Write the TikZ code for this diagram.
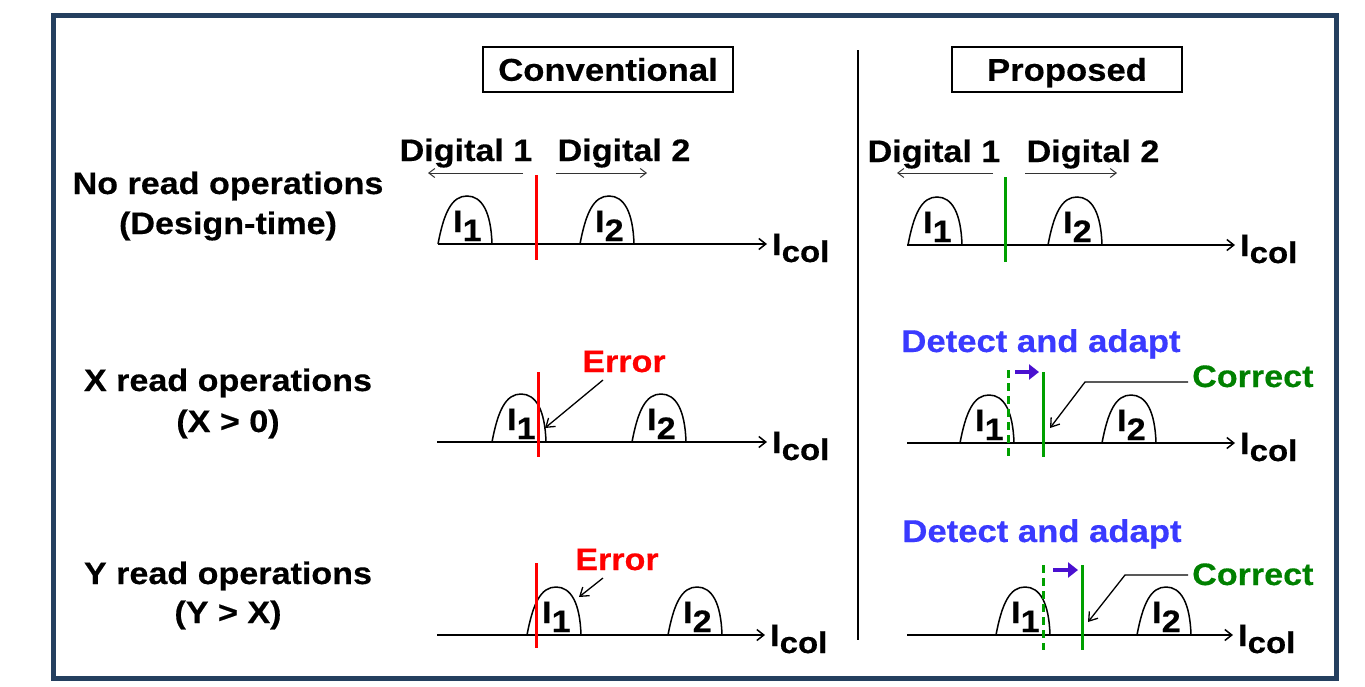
\documentclass[tikz,border=0pt]{standalone}
\usepackage{fontspec}
\setmainfont{Liberation Sans}[FakeStretch=1.1, BoldFeatures={FakeBold=0.4}]
\usetikzlibrary{arrows.meta}

\definecolor{frameblue}{HTML}{243F5F}
\definecolor{errred}{HTML}{FF0000}
\definecolor{okgreen}{HTML}{00A000}
\definecolor{textgreen}{HTML}{008000}
\definecolor{adaptblue}{HTML}{3A3AFF}
\definecolor{shiftpurple}{HTML}{4A10D0}

\newcommand{\fsz}[1]{\fontsize{#1}{#1}\selectfont}
% current distribution: bell-shaped hump with its label I_k
% #1 left x, #2 axis y, #3 label node name, #4 index
\newcommand{\hump}[4]{%
  \draw[curve] (#1,#2) .. controls ({#1+6},{#2-32}) and ({#1+14},{#2-48}) .. ({#1+29},{#2-48})
     .. controls ({#1+44},{#2-48}) and ({#1+53},{#2-32}) .. ({#1+54},#2);
  \node[txt, anchor=base west] (#3) at ({#1+15},{#2-12}) {I\raisebox{-9pt}{#4}};
}
% axis label I_col
\newcommand{\icol}{I{\fsz{30}\raisebox{-7pt}{col}}}

\begin{document}
\begin{tikzpicture}[x=1pt,y=-1pt,
  txt/.style={inner sep=0pt, font=\bfseries\fsz{31}},
  rowlabel/.style={txt, anchor=base},
  title/.style={draw, line width=1.3pt, inner sep=0pt, font=\bfseries\fsz{31.5},
                minimum height=45pt, text height=22.5pt, text depth=0pt},
  curve/.style={line width=1.5pt},
  axis/.style={line width=1.5pt, -{Straight Barb[length=7pt,width=11pt,line width=1.5pt]}},
  hint/.style={line width=1pt, draw=black!80, -{Straight Barb[length=6pt,width=9pt,line width=1pt]}},
  pointer/.style={line width=1.3pt, -{Straight Barb[length=8pt,width=11pt,line width=1.3pt]}},
  refline/.style={line width=3pt, draw=errred},
  goodline/.style={line width=3pt, draw=okgreen},
  oldline/.style={line width=3pt, draw=okgreen, dash pattern=on 8pt off 5pt},
  movearrow/.style={line width=4pt, draw=shiftpurple, -{Triangle[length=10pt,width=15pt]}},
]
\useasboundingbox (0,0) rectangle (1365,686);

% outer frame and column divider
\draw[frameblue, line width=5pt] (53.5,15.5) rectangle (1336.5,678.5);
\coordinate (divtop) at (858,50);
\coordinate (divbot) at (858,640);
\draw[line width=1.5pt] (divtop) -- (divbot);

% column titles
\node[title, minimum width=250pt] (conv) at (608,69.5) {Conventional};
\node[title, minimum width=230pt] (prop) at (1067,69.5) {Proposed};

% row labels
\node[rowlabel] (r1a) at (228,194) {No read operations};
\node[rowlabel] (r1b) at (228,234) {(Design-time)};
\node[rowlabel] (r2a) at (228,391) {X read operations};
\node[rowlabel] (r2b) at (228,432) {(X > 0)};
\node[rowlabel] (r3a) at (228,584) {Y read operations};
\node[rowlabel] (r3b) at (228,623) {(Y > X)};

% ---------- row 1, conventional ----------
\node[rowlabel] (cd1) at (466,161) {Digital 1};
\node[rowlabel] (cd2) at (624,161) {Digital 2};
\coordinate (cd1s) at (523,173); \coordinate (cd1e) at (428,173);
\coordinate (cd2s) at (556,173); \coordinate (cd2e) at (647,173);
\draw[hint] (cd1s) -- (cd1e);
\draw[hint] (cd2s) -- (cd2e);
\hump{438}{244}{c1i1}{1}
\hump{580}{244}{c1i2}{2}
\node[txt, anchor=base west] (c1col) at (772,255) {\icol};
\coordinate (c1a) at (438,244); \coordinate (c1b) at (767,244);
\draw[axis] (c1a) -- (c1b);
\coordinate (c1t) at (536,175); \coordinate (c1u) at (536,260);
\draw[refline] (c1t) -- (c1u);

% ---------- row 1, proposed ----------
\node[rowlabel] (pd1) at (934,162) {Digital 1};
\node[rowlabel] (pd2) at (1093,162) {Digital 2};
\coordinate (pd1s) at (993,173); \coordinate (pd1e) at (897,173);
\coordinate (pd2s) at (1025,173); \coordinate (pd2e) at (1117,173);
\draw[hint] (pd1s) -- (pd1e);
\draw[hint] (pd2s) -- (pd2e);
\hump{908}{245}{p1i1}{1}
\hump{1048}{245}{p1i2}{2}
\node[txt, anchor=base west] (p1col) at (1240,256) {\icol};
\coordinate (p1a) at (907,245); \coordinate (p1b) at (1235,245);
\draw[axis] (p1a) -- (p1b);
\coordinate (p1t) at (1005,177); \coordinate (p1u) at (1005,262);
\draw[goodline] (p1t) -- (p1u);

% ---------- row 2, conventional ----------
\hump{492}{442}{c2i1}{1}
\hump{632}{442}{c2i2}{2}
\node[txt, anchor=base west] (c2col) at (772,453) {\icol};
\coordinate (c2a) at (437,442); \coordinate (c2b) at (767,442);
\draw[axis] (c2a) -- (c2b);
\coordinate (c2t) at (538,372); \coordinate (c2u) at (538,457);
\draw[refline] (c2t) -- (c2u);
\node[txt, anchor=base, text=errred] (c2err) at (624,372) {Error};
\coordinate (c2from) at (603,380);
\coordinate (c2hit) at (545,428);
\draw[pointer] (c2from) -- (c2hit);

% ---------- row 2, proposed ----------
\node[txt, anchor=base, text=adaptblue, font=\bfseries\fsz{31.5}] (p2det) at (1041,352) {Detect and adapt};
\hump{960}{443}{p2i1}{1}
\hump{1102}{443}{p2i2}{2}
\node[txt, anchor=base west] (p2col) at (1240,454) {\icol};
\coordinate (p2a) at (907,443); \coordinate (p2b) at (1235,443);
\draw[axis] (p2a) -- (p2b);
\coordinate (p2ot) at (1008,370); \coordinate (p2ou) at (1008,457);
\draw[oldline] (p2ot) -- (p2ou);
\coordinate (p2t) at (1043,372); \coordinate (p2u) at (1043,457);
\draw[goodline] (p2t) -- (p2u);
\coordinate (p2ms) at (1015,372); \coordinate (p2me) at (1039,372);
\draw[movearrow] (p2ms) -- (p2me);
\node[txt, anchor=base west, text=textgreen] (p2ok) at (1192,387) {Correct};
\coordinate (p2from) at (1188,382);
\coordinate (p2bend) at (1085,382);
\coordinate (p2hit) at (1050,428);
\draw[pointer] (p2from) -- (p2bend) -- (p2hit);

% ---------- row 3, conventional ----------
\hump{527}{635}{c3i1}{1}
\hump{668}{635}{c3i2}{2}
\node[txt, anchor=base west] (c3col) at (770,646) {\icol};
\coordinate (c3a) at (437,635); \coordinate (c3b) at (765,635);
\draw[axis] (c3a) -- (c3b);
\coordinate (c3t) at (536,563); \coordinate (c3u) at (536,648);
\draw[refline] (c3t) -- (c3u);
\node[txt, anchor=base, text=errred] (c3err) at (617,570) {Error};
\coordinate (c3from) at (603,578);
\coordinate (c3hit) at (579,597);
\draw[pointer] (c3from) -- (c3hit);

% ---------- row 3, proposed ----------
\node[txt, anchor=base, text=adaptblue, font=\bfseries\fsz{31.5}] (p3det) at (1042,542) {Detect and adapt};
\hump{996}{635}{p3i1}{1}
\hump{1137}{635}{p3i2}{2}
\node[txt, anchor=base west] (p3col) at (1238,646) {\icol};
\coordinate (p3a) at (907,635); \coordinate (p3b) at (1233,635);
\draw[axis] (p3a) -- (p3b);
\coordinate (p3ot) at (1043,565); \coordinate (p3ou) at (1043,650);
\draw[oldline] (p3ot) -- (p3ou);
\coordinate (p3t) at (1082,565); \coordinate (p3u) at (1082,650);
\draw[goodline] (p3t) -- (p3u);
\coordinate (p3ms) at (1053,570); \coordinate (p3me) at (1078,570);
\draw[movearrow] (p3ms) -- (p3me);
\node[txt, anchor=base west, text=textgreen] (p3ok) at (1192,585) {Correct};
\coordinate (p3from) at (1188,575);
\coordinate (p3bend) at (1125,575);
\coordinate (p3hit) at (1088,622);
\draw[pointer] (p3from) -- (p3bend) -- (p3hit);
\end{tikzpicture}
\end{document}
